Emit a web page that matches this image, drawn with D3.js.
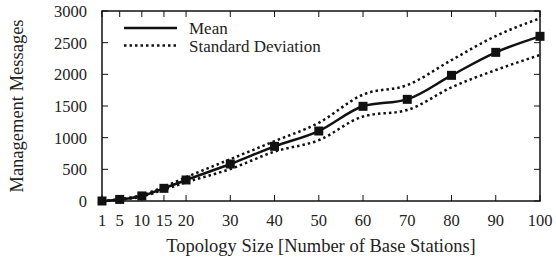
<!DOCTYPE html>
<html>
<head>
<meta charset="utf-8">
<script src="https://cdn.jsdelivr.net/npm/d3@7"></script>
<style>
  body { margin: 0; background: #fff; }
</style>
</head>
<body>
<svg id="chart" width="556" height="264"></svg>
<script>
// topology sizes (x) and measured values
const sizes = [1, 5, 10, 15, 20, 30, 40, 50, 60, 70, 80, 90, 100];
const meanMsgs = [0, 25, 80, 200, 332, 584, 863, 1105, 1495, 1605, 1984, 2347, 2600];
const upperMsgs = [0, 30, 95, 225, 375, 660, 945, 1235, 1680, 1830, 2225, 2605, 2884];
const lowerMsgs = [0, 20, 70, 180, 295, 505, 780, 960, 1335, 1437, 1795, 2068, 2305];
const yTicks = [0, 500, 1000, 1500, 2000, 2500, 3000];
const legendLabels = ["Mean", "Standard Deviation"];

const FONT = "'Liberation Serif', 'Times New Roman', serif";

const svg = d3.select("#chart")
    .attr("font-family", FONT);
const margin = { left: 102, right: 16, top: 11, bottom: 63 };
const W = 556, H = 264;

const x = d3.scaleLinear().domain([1, 100]).range([margin.left, W - margin.right]);
const y = d3.scaleLinear().domain([0, 3000]).range([H - margin.bottom, margin.top]);

const tickFont = 16.5;
const titleFont = 18.5;
const legendFont = 17;

// frame
svg.append("rect")
    .attr("x", x(1)).attr("y", y(3000))
    .attr("width", x(100) - x(1)).attr("height", y(0) - y(3000))
    .attr("fill", "none").attr("stroke", "#111").attr("stroke-width", 1.5);

// ticks, inward on all sides
const tickLen = 6;
const g = svg.append("g").attr("stroke", "#111").attr("stroke-width", 1);
sizes.forEach(v => {
    g.append("line").attr("x1", x(v)).attr("x2", x(v)).attr("y1", y(0)).attr("y2", y(0) - tickLen);
    g.append("line").attr("x1", x(v)).attr("x2", x(v)).attr("y1", y(3000)).attr("y2", y(3000) + tickLen);
});
yTicks.forEach(v => {
    g.append("line").attr("x1", x(1)).attr("x2", x(1) + tickLen).attr("y1", y(v)).attr("y2", y(v));
    g.append("line").attr("x1", x(100)).attr("x2", x(100) - tickLen).attr("y1", y(v)).attr("y2", y(v));
});

// tick labels
svg.append("g").selectAll("text").data(sizes).join("text")
    .attr("x", d => x(d)).attr("y", y(0) + 25)
    .attr("text-anchor", "middle").attr("font-size", tickFont)
    .attr("fill", "#222")
    .text(d => d);
svg.append("g").selectAll("text").data(yTicks).join("text")
    .attr("x", x(1) - 15).attr("y", d => y(d) + 6)
    .attr("text-anchor", "end").attr("font-size", tickFont)
    .attr("fill", "#222")
    .text(d => d);

// axis titles
svg.append("text")
    .attr("x", 321).attr("y", 252)
    .attr("text-anchor", "middle").attr("font-size", titleFont)
    .attr("fill", "#222")
    .text("Topology Size [Number of Base Stations]");
svg.append("text")
    .attr("transform", `translate(23,${(y(0) + y(3000)) / 2}) rotate(-90)`)
    .attr("text-anchor", "middle").attr("font-size", titleFont)
    .attr("fill", "#222")
    .text("Management Messages");

// lines
const line = d3.line().x(d => x(d[0])).y(d => y(d[1])).curve(d3.curveMonotoneX);

[upperMsgs, lowerMsgs].forEach(arr => {
    svg.append("path")
        .datum(sizes.map((s, i) => [s, arr[i]]))
        .attr("fill", "none").attr("stroke", "#111")
        .attr("stroke-width", 2.5)
        .attr("stroke-dasharray", "2.5,3")
        .attr("d", line);
});

svg.append("path")
    .datum(sizes.map((s, i) => [s, meanMsgs[i]]))
    .attr("fill", "none").attr("stroke", "#111")
    .attr("stroke-width", 2.5)
    .attr("d", line);

const ms = 9;
svg.append("g").selectAll("rect").data(sizes).join("rect")
    .attr("x", (d, i) => x(d) - ms / 2)
    .attr("y", (d, i) => y(meanMsgs[i]) - ms / 2)
    .attr("width", ms).attr("height", ms)
    .attr("fill", "#111");

// legend
const legend = svg.append("g");
legendLabels.forEach((lab, i) => {
    const ly = 28 + i * 17.5;
    legend.append("line")
        .attr("x1", 124).attr("x2", 177).attr("y1", ly).attr("y2", ly)
        .attr("stroke", "#111").attr("stroke-width", 2.5)
        .attr("stroke-dasharray", i === 1 ? "2.5,3" : null);
    legend.append("text")
        .attr("x", 189).attr("y", ly + 6)
        .attr("font-size", legendFont)
        .attr("fill", "#222")
        .text(lab);
});
</script>
</body>
</html>
